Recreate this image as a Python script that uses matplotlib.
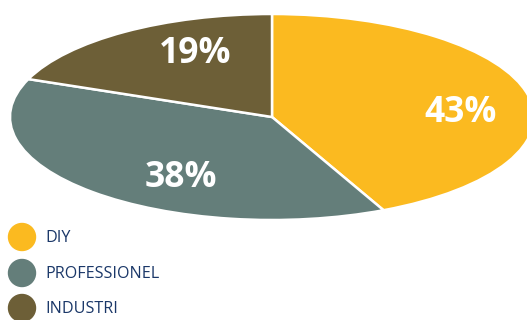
import matplotlib
matplotlib.use('Agg')
import matplotlib.pyplot as plt
from matplotlib.patches import Ellipse

# data
categories = ['DIY', 'PROFESSIONEL', 'INDUSTRI']
shares = [43, 38, 19]
colors = ['#FBBA20', '#647E7A', '#6D5F37']

W, H = 527, 320
cx, cy = 272, 117      # pie centre in pixels
rx, ry = 262, 103      # pie radii in pixels

fig = plt.figure(figsize=(W / 100, H / 100), dpi=100)
ax = fig.add_axes([0, 0, 1, 1])
ax.pie(shares, colors=colors, startangle=90, counterclock=False,
       wedgeprops=dict(edgecolor='white', linewidth=1.8))
ax.set_aspect('auto')
ax.set_xlim(-cx / rx, (W - cx) / rx)
ax.set_ylim(-(H - cy) / ry, cy / ry)
ax.axis('off')

# percentage labels (pixel positions of label centres)
label_pos = [(461, 113), (181, 178), (195, 54)]
for (px, py), v in zip(label_pos, shares):
    ax.text((px - cx) / rx, (cy - py) / ry, f'{v}%', color='white',
            fontsize=25.5, fontweight='bold', family='Open Sans',
            ha='center', va='center')

# legend
leg_y = [237, 273, 308]
for name, col, py in zip(categories, colors, leg_y):
    fig.patches.append(Ellipse((22 / W, 1 - py / H), 27 / W, 27 / H,
                               transform=fig.transFigure, color=col))
    fig.text(45 / W, 1 - (py + 1) / H, name, color='#1A3768', fontsize=11.6,
             family='Open Sans', fontweight='medium', ha='left', va='center')

fig.savefig('out.png', dpi=100)
